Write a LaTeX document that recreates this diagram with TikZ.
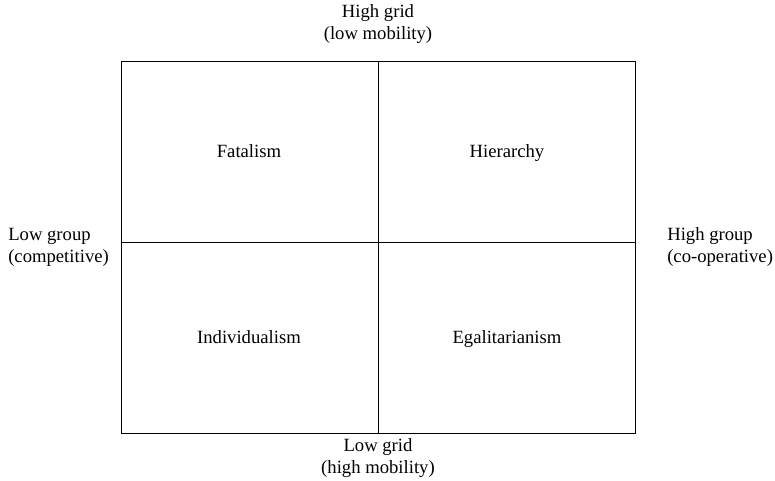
\documentclass[tikz,border=0pt]{standalone}
\usepackage{fontspec}
\setmainfont{Liberation Serif}
\tikzset{
	axislabel/.style={align=center, inner sep=0pt},
	sidelabel/.style={align=left, anchor=west, inner sep=0pt},
	cell/.style={inner sep=0pt, text height=1.5ex, text depth=.25ex}
}
\begin{document}
\begin{tikzpicture}[x=0.75pt,y=-0.75pt,font=\fontsize{14}{16.5}\selectfont]
		\useasboundingbox (0,0) rectangle (775,481);
		
		%The grid-group frame
		\coordinate (TL) at (121,61);
		\coordinate (BR) at (635,433);
		\draw (TL) rectangle (BR);
		\draw (378,61) -- (378,433);
		\draw (121,242) -- (635,242);
		
		%Grid axis
		\node[axislabel] (G1) at (378,24) {High grid\\(low mobility)};
		\node[axislabel] (G2) at (378,458) {Low grid\\(high mobility)};
		
		%Group axis
		\node[sidelabel] (P1) at (8,247) {Low group\\(competitive)};
		\node[sidelabel] (P2) at (667,247) {High group\\(co-operative)};
		
		%Cultures
		\node[cell] (C1) at (249,154) {Fatalism};
		\node[cell] (C2) at (507,154) {Hierarchy};
		\node[cell] (C3) at (249,340) {Individualism};
		\node[cell] (C4) at (507,340) {Egalitarianism};
		
\end{tikzpicture}
\end{document}
